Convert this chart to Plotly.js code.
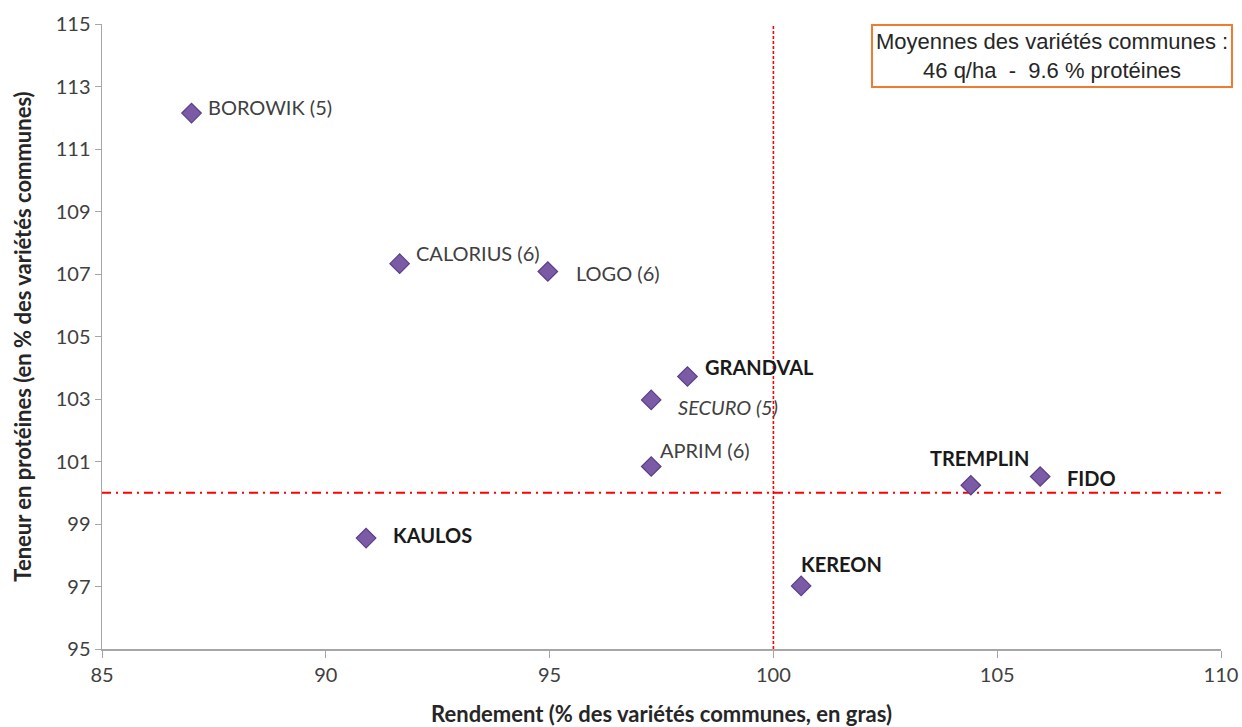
<!DOCTYPE html>
<html><head><meta charset="utf-8">
<script src="https://cdn.plot.ly/plotly-3.0.1.min.js"></script>
<style>html,body{margin:0;padding:0;background:#fff}#chart{width:1242px;height:727px}</style>
</head><body><div id="chart"></div>
<script>
var varieties = ["BOROWIK (5)","CALORIUS (6)","LOGO (6)","GRANDVAL","SECURO (5)","APRIM (6)","KAULOS","KEREON","TREMPLIN","FIDO"];
var rendement = [87.0, 91.65, 94.96, 98.08, 97.27, 97.27, 90.9, 100.62, 104.41, 105.96];
var proteines = [112.15, 107.33, 107.08, 103.72, 102.97, 100.84, 98.55, 97.02, 100.24, 100.52];
var styles = ["normal","normal","normal","bold","italic","normal","bold","bold","bold","bold"];
var xTicks = [85, 90, 95, 100, 105, 110];
var yTicks = [95, 97, 99, 101, 103, 105, 107, 109, 111, 113, 115];
var refX = 100, refY = 100;
// label offsets in pixels (dx, dy) relative to each marker
var labelOffsets = [[14,6],[14,11],[26,-1],[16,10],[25,-7],[7,17],[25,3],[-2,22],[-43,27],[25,-1]];

var annotations = varieties.map(function(v,i){
  var st = styles[i];
  return {
    x: rendement[i], y: proteines[i], xref:'x', yref:'y',
    text: st==='bold' ? '<b>'+v+'</b>' : (st==='italic' ? '<i>'+v+'</i>' : v),
    showarrow:false, xanchor:'left', yanchor:'middle',
    xshift: labelOffsets[i][0], yshift: labelOffsets[i][1],
    font:{family:'Lato, "Open Sans", sans-serif', size:20, color: st==='bold' ? '#1a1a1a' : '#404040'}
  };
});
annotations.push({
  xref:'paper', yref:'paper', x:1.0105, y:1.0, xanchor:'right', yanchor:'top',
  text:'Moyennes des variétés communes :<br>46 q/ha  -  9.6 % protéines',
  showarrow:false, align:'center',
  font:{family:'"Liberation Sans", Arial, sans-serif', size:22, color:'#262626'},
  bordercolor:'#F07A2E', borderwidth:2, borderpad:3, bgcolor:'#ffffff'
});

var data = [
  {x:[refX,refX], y:[yTicks[0], yTicks[yTicks.length-1]], mode:'lines', line:{color:'#FF0000', width:1.6, dash:'3px,2px'}, hoverinfo:'skip', showlegend:false},
  {x:[xTicks[0], xTicks[xTicks.length-1]], y:[refY,refY], mode:'lines', line:{color:'#FF0000', width:1.8, dash:'9px,5px,2px,5px'}, hoverinfo:'skip', showlegend:false},
  {x:rendement, y:proteines, mode:'markers', type:'scatter', showlegend:false,
   marker:{symbol:'diamond', size:15, color:'#7B5BA6', line:{color:'#5A3F86', width:1.2}}}
];

var layout = {
  width:1242, height:727,
  margin:{l:102, r:21, t:24, b:78},
  paper_bgcolor:'#fff', plot_bgcolor:'#fff',
  font:{family:'Lato, "Open Sans", sans-serif', color:'#404040'},
  xaxis:{range:[85,110], tickvals:xTicks, ticktext:xTicks.map(String), showgrid:false, zeroline:false,
    showline:true, linecolor:'#A6A6A6', linewidth:1.5, ticks:'outside', ticklen:7, tickcolor:'#A6A6A6',
    tickfont:{size:20, color:'#404040'},
    title:{text:'<b>Rendement (% des variétés communes, en gras)</b>', font:{size:22, color:'#262626'}, standoff:24}},
  yaxis:{range:[95,115], tickvals:yTicks, ticktext:yTicks.map(String), showgrid:false, zeroline:false,
    showline:true, linecolor:'#A6A6A6', linewidth:1.5, ticks:'outside', ticklen:6, tickcolor:'#A6A6A6',
    tickfont:{size:20, color:'#404040'},
    title:{text:'<b>Teneur en protéines (en % des variétés communes)</b>', font:{size:22, color:'#262626'}, standoff:18}},
  annotations:annotations
};
Plotly.newPlot('chart', data, layout, {staticPlot:true});
</script></body></html>
